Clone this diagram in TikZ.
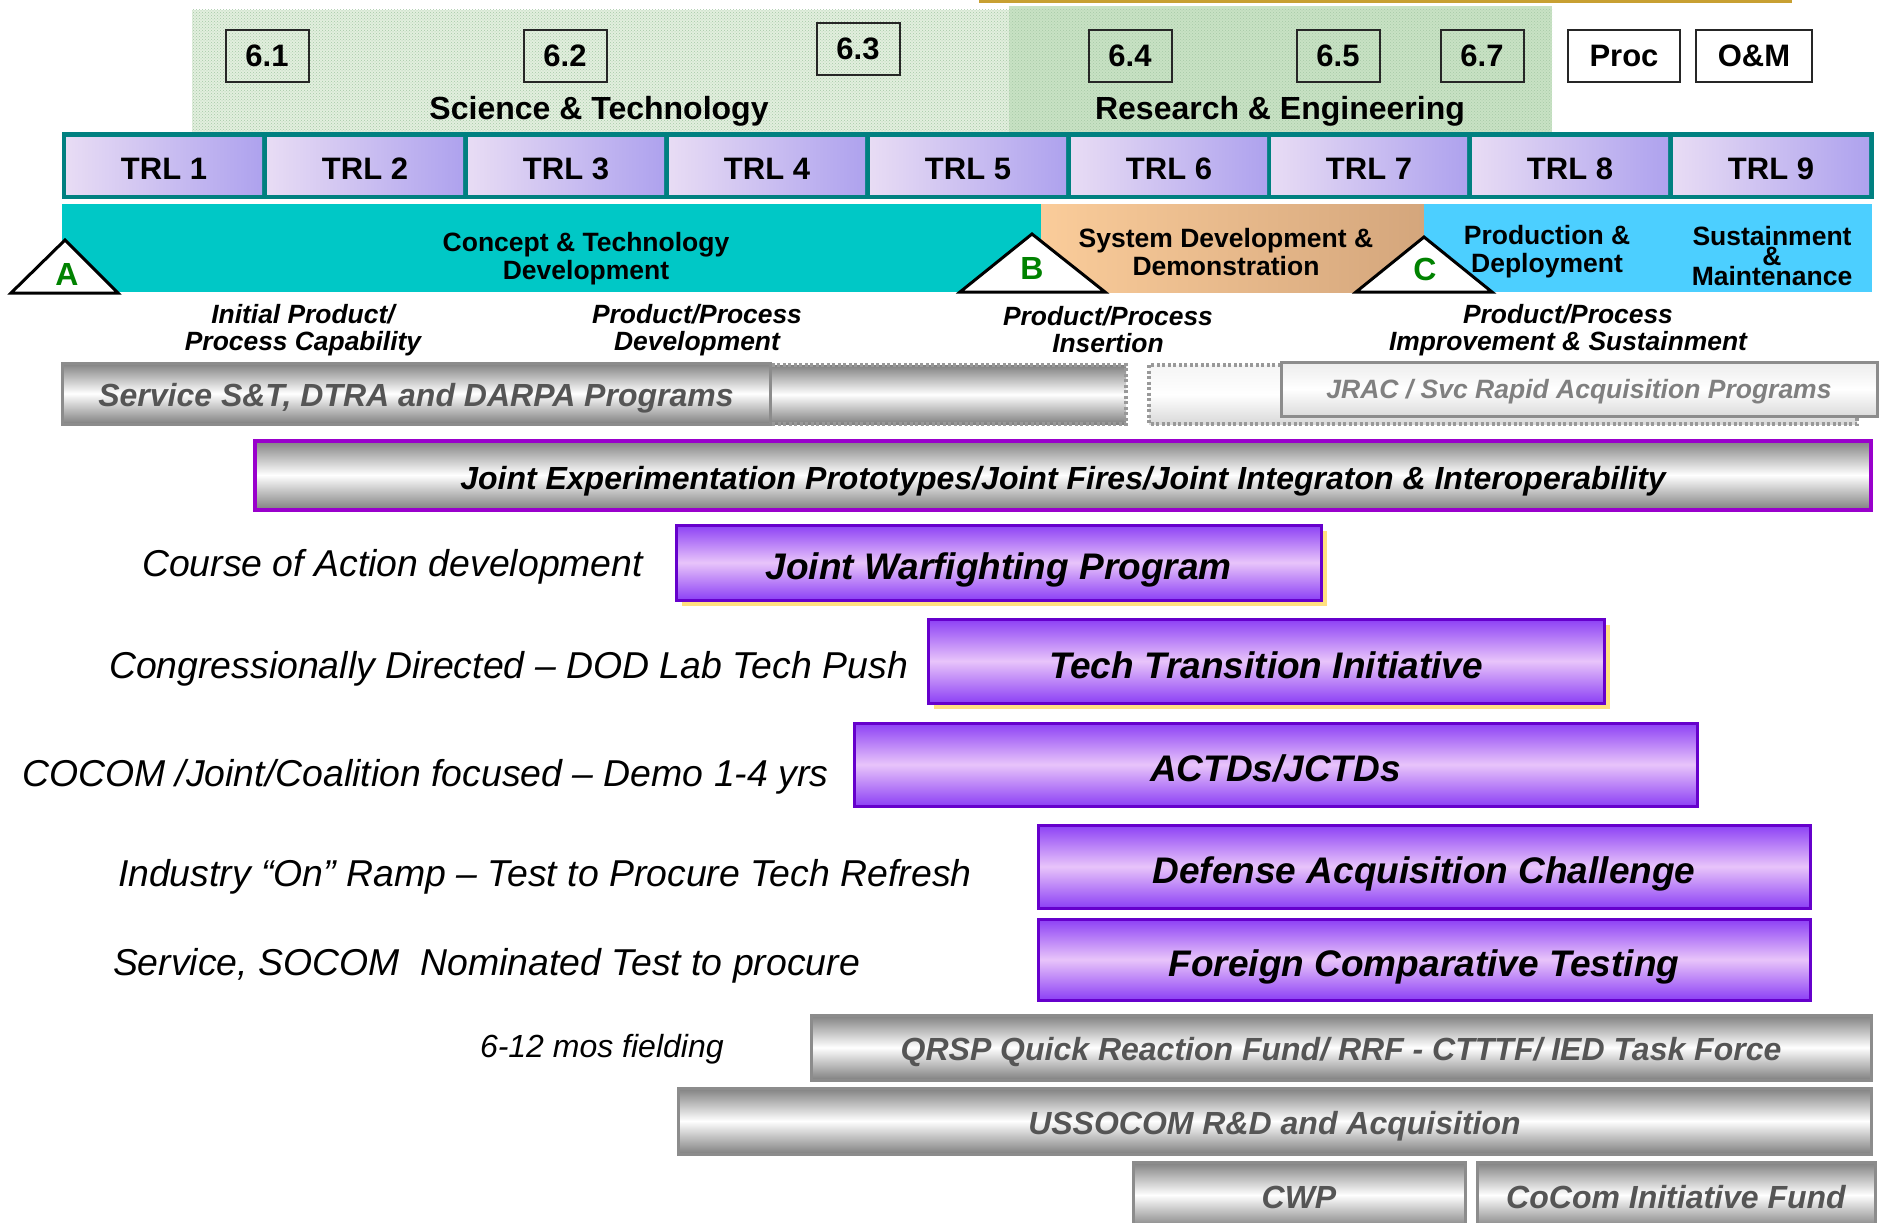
\documentclass[tikz,border=0pt]{standalone}
\usepackage{fontspec}
\setmainfont{Liberation Sans}
\usepackage{xcolor}
\usetikzlibrary{patterns}
\usetikzlibrary{shadows}

\definecolor{stipLight}{RGB}{226,239,222}
\definecolor{stipDark}{RGB}{200,226,196}
\definecolor{goldLine}{RGB}{200,160,50}
\definecolor{trlFrame}{RGB}{0,128,128}
\definecolor{trlLeft}{RGB}{232,220,244}
\definecolor{trlRight}{RGB}{174,162,238}
\definecolor{ctdTeal}{RGB}{0,200,198}
\definecolor{sddLeft}{RGB}{250,204,154}
\definecolor{sddRight}{RGB}{212,166,124}
\definecolor{pdBlue}{RGB}{76,207,255}
\definecolor{msGreen}{RGB}{0,130,0}
\definecolor{barGray}{RGB}{128,128,128}
\definecolor{barEdge}{RGB}{140,140,140}
\definecolor{barText}{RGB}{85,85,85}
\definecolor{jointEdge}{RGB}{153,0,204}
\definecolor{purpEdge}{RGB}{102,0,204}
\definecolor{purpDark}{RGB}{140,64,245}
\definecolor{purpLight}{RGB}{232,196,250}
\definecolor{shadowYellow}{RGB}{255,224,128}

\begin{document}
\begin{tikzpicture}[x=1pt,y=-1pt,
		every node/.style={inner sep=0pt,outer sep=0pt},
		bigbold/.style={font=\bfseries\fontsize{31}{31}\selectfont},
		fundnum/.style={bigbold,draw=black!85,line width=2pt,minimum width=83pt,minimum height=52pt},
		trlcell/.style={bigbold,left color=trlLeft,right color=trlRight,minimum width=196pt,minimum height=56.5pt,text height=27.3pt,text depth=0pt},
		phasetext/.style={align=center,font=\bfseries\fontsize{26.5}{28}\selectfont},
		milestone/.style={fill=white,draw=black,line width=3pt},
		mslabel/.style={text=msGreen,font=\bfseries\fontsize{32}{32}\selectfont},
		activity/.style={align=center,font=\bfseries\itshape\fontsize{26.4}{27}\selectfont},
		dotbox/.style={draw=gray!80,line width=3.5pt,dash pattern=on 3pt off 2.5pt},
		graybar/.style={top color=barGray,bottom color=barGray,middle color=white,draw=barEdge,line width=3pt,text=barText,text height=26pt,text depth=0pt,font=\bfseries\itshape\fontsize{32}{32}\selectfont},
		jointbar/.style={top color=barGray,bottom color=barGray,middle color=white,draw=jointEdge,line width=4pt,text height=29pt,text depth=0pt,font=\bfseries\itshape\fontsize{32}{32}\selectfont},
		purplebar/.style={top color=purpDark,bottom color=purpDark,middle color=purpLight,draw=purpEdge,line width=3pt,text height=34.6pt,text depth=0pt,font=\bfseries\itshape\fontsize{37}{37}\selectfont},
		yshadow/.style={drop shadow={fill=shadowYellow,opacity=1,shadow xshift=6pt,shadow yshift=-6pt}},
		sidenote/.style={anchor=west,font=\itshape\fontsize{37.4}{37.4}\selectfont}]
		\useasboundingbox (0,0) rectangle (1883,1223);
		\clip (0,0) rectangle (1883,1223);
		% funding bands
		\fill[stipLight] (192,10) rectangle (1009,132);
		\fill[stipDark] (1009,6) rectangle (1552,132);
		\fill[pattern=crosshatch dots,pattern color=green!40!black!35] (192,10) rectangle (1552,132);
		\draw[goldLine,line width=2.5pt] (979,1.5) -- (1792,1.5);
		\node[fundnum] (f61) at (267,56) {6.1};
		\node[fundnum] (f62) at (565,56) {6.2};
		\node[fundnum] (f63) at (858,49) {6.3};
		\node[fundnum] (f64) at (1130,56) {6.4};
		\node[fundnum] (f65) at (1338,56) {6.5};
		\node[fundnum] (f67) at (1482,56) {6.7};
		\node[fundnum,fill=white,minimum width=112pt] (proc) at (1624,56) {Proc};
		\node[fundnum,fill=white,minimum width=116pt] (om) at (1754,56) {O\&M};
		\node[bigbold,font=\bfseries\fontsize{32}{32}\selectfont] (st) at (599,111.5) {Science \& Technology};
		\node[bigbold,font=\bfseries\fontsize{32}{32}\selectfont] (re) at (1280,111.5) {Research \& Engineering};
		% TRL band
		\fill[trlFrame] (62,132) rectangle (1874,199);
		\node[trlcell] (trl1) at (164,166) {TRL 1};
		\node[trlcell] (trl2) at (365,166) {TRL 2};
		\node[trlcell] (trl3) at (566,166) {TRL 3};
		\node[trlcell] (trl4) at (767,166) {TRL 4};
		\node[trlcell] (trl5) at (968,166) {TRL 5};
		\node[trlcell] (trl6) at (1169,166) {TRL 6};
		\node[trlcell] (trl7) at (1369,166) {TRL 7};
		\node[trlcell] (trl8) at (1570,166) {TRL 8};
		\node[trlcell] (trl9) at (1771,166) {TRL 9};
		% phases
		\fill[ctdTeal] (62,204) rectangle (1041,292);
		\shade[left color=sddLeft,right color=sddRight] (1041,204) rectangle (1424,292);
		\fill[pdBlue] (1424,204) rectangle (1872,292);
		\node[phasetext] (ctd) at (586,259) {Concept \& Technology\\Development};
		\node[phasetext] (sdd) at (1226,252) {System Development \&\\Demonstration};
		\node[phasetext] (pd) at (1547,252) {Production \&\\Deployment};
		\node[phasetext,font=\bfseries\fontsize{26.5}{20}\selectfont] (sm) at (1772,256) {Sustainment\\\&\\Maintenance};
		\draw[milestone] (11,293) -- (65,240) -- (118,293) -- cycle;
		\draw[milestone] (960,292) -- (1032,234) -- (1105,292) -- cycle;
		\draw[milestone] (1356,292) -- (1424,237) -- (1492,292) -- cycle;
		\node[mslabel] (msA) at (67,274) {A};
		\node[mslabel] (msB) at (1032,268) {B};
		\node[mslabel] (msC) at (1425,269) {C};
		\node[activity] (ipc) at (303,330) {Initial Product/\\Process Capability};
		\node[activity] (ppd) at (697,330) {Product/Process\\Development};
		\node[activity] (ppi) at (1108,330) {Product/Process\\Insertion};
		\node[activity] (pps) at (1568,330) {Product/Process\\Improvement \& Sustainment};
		% programs
		\draw[dotbox,top color=barGray,bottom color=barGray,middle color=white] (424,365) rectangle (1126,424);
		\node[graybar,minimum width=708pt,minimum height=61pt] (svc) at (416,393.5) {Service S\&T, DTRA and DARPA Programs};
		\draw[dotbox,top color=gray!8,bottom color=gray!30,middle color=white] (1149,365) rectangle (1857,424);
		\node[graybar,top color=gray!15,bottom color=gray!28,middle color=white,text=gray,text height=19.5pt,font=\bfseries\itshape\fontsize{26.5}{26.5}\selectfont,minimum width=596pt,minimum height=54pt] (jrac) at (1579,389) {JRAC / Svc Rapid Acquisition Programs};
		\node[jointbar,minimum width=1616pt,minimum height=69pt] (jexp) at (1063,475) {Joint Experimentation Prototypes/Joint Fires/Joint Integraton \& Interoperability};
		\node[purplebar,yshadow,minimum width=645pt,minimum height=75pt] (jwp) at (998.5,562.5) {Joint Warfighting Program};
		\node[purplebar,yshadow,minimum width=676pt,minimum height=84pt] (tti) at (1266,661) {Tech Transition Initiative};
		\node[purplebar,minimum width=843pt,minimum height=83pt] (actd) at (1275.5,764.5) {ACTDs/JCTDs};
		\node[purplebar,minimum width=772pt,minimum height=83pt] (dac) at (1424,866.5) {Defense Acquisition Challenge};
		\node[purplebar,minimum width=772pt,minimum height=81pt] (fct) at (1424,959.5) {Foreign Comparative Testing};
		\node[sidenote] (coa) at (142,566.5) {Course of Action development};
		\node[sidenote] (cong) at (109,668.5) {Congressionally Directed – DOD Lab Tech Push};
		\node[sidenote] (cocom) at (22,776.5) {COCOM /Joint/Coalition focused – Demo 1-4 yrs};
		\node[sidenote] (ind) at (118,876.5) {Industry “On” Ramp – Test to Procure Tech Refresh};
		\node[sidenote] (socom) at (113,965.5) {Service, SOCOM\ \ Nominated Test to procure};
		\node[sidenote,font=\itshape\fontsize{32}{32}\selectfont] (fld) at (480,1049.5) {6-12 mos fielding};
		\node[graybar,minimum width=1060pt,minimum height=65pt] (qrsp) at (1341,1047.5) {QRSP Quick Reaction Fund/ RRF - CTTTF/ IED Task Force};
		\node[graybar,minimum width=1193pt,minimum height=66pt] (usso) at (1274.5,1121) {USSOCOM R\&D and Acquisition};
		\node[graybar,minimum width=332pt,minimum height=66pt] (cwp) at (1299,1195) {CWP};
		\node[graybar,minimum width=398pt,minimum height=66pt] (cif) at (1676,1195) {CoCom Initiative Fund};
	\end{tikzpicture}
\end{document}
